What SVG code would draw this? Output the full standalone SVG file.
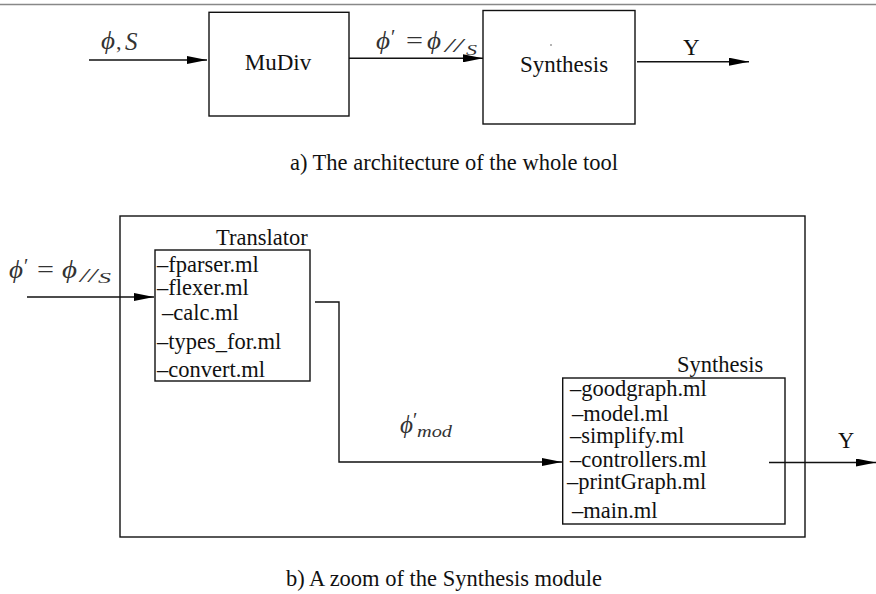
<svg xmlns="http://www.w3.org/2000/svg" width="876" height="594" viewBox="0 0 876 594">
<defs>
<marker id="ah" markerUnits="userSpaceOnUse" markerWidth="20" markerHeight="8" refX="20" refY="4" orient="auto" viewBox="0 0 20 8"><path d="M0,0 L20,4 L0,8 z" fill="#000"/></marker>
</defs>
<style>
.box{fill:none;stroke:#111;stroke-width:1.4}
.t{font-family:"Liberation Serif","Times New Roman",serif;fill:#111;font-size:22.5px}
.tt{font-family:"Liberation Serif","Times New Roman",serif;fill:#111;font-size:23px}
.m{font-family:"Liberation Serif","DejaVu Serif",serif;font-style:italic;fill:#333;font-size:23px}
.phi{font-family:"Liberation Serif","DejaVu Serif",serif;font-style:italic;fill:#333;font-size:26px}
.mu{font-family:"Liberation Serif","DejaVu Serif",serif;fill:#333;font-size:26px}
.c{fill:none;stroke:#111;stroke-width:1.4}
</style>
<rect width="876" height="594" fill="#fff"/>
<line x1="0" y1="4.5" x2="876" y2="4.5" stroke="#888" stroke-width="1.5"/>

<g id="connectors">
<line class="c" x1="89" y1="60" x2="207" y2="60" marker-end="url(#ah)"/>
<line class="c" x1="349" y1="58.3" x2="483" y2="58.3" marker-end="url(#ah)"/>
<line class="c" x1="637" y1="61.7" x2="749" y2="61.7" marker-end="url(#ah)"/>
<line class="c" x1="27" y1="297" x2="154" y2="297" marker-end="url(#ah)"/>
<polyline class="c" points="315,302 339,302 339,462 562,462" marker-end="url(#ah)"/>
<line class="c" x1="769" y1="462.5" x2="876" y2="462.5" marker-end="url(#ah)"/>
</g>

<g id="labels">
<text class="phi" x="101" y="49" textLength="14" lengthAdjust="spacingAndGlyphs">ϕ</text>
<text class="mu" x="116" y="49" style="font-size:22px">,</text>
<text class="m" x="125" y="50" style="font-size:25px">S</text>

<text class="phi" x="376" y="49" textLength="14" lengthAdjust="spacingAndGlyphs">ϕ</text>
<text class="mu" x="391" y="44" style="font-size:20px">′</text>
<text class="mu" x="406" y="49" textLength="17" lengthAdjust="spacingAndGlyphs">=</text>
<text class="phi" x="427" y="49" textLength="14" lengthAdjust="spacingAndGlyphs">ϕ</text>
<text class="m" x="445" y="52" style="font-size:19px" textLength="18" lengthAdjust="spacingAndGlyphs">//</text>
<text class="m" x="466" y="55" style="font-size:15px" textLength="11" lengthAdjust="spacingAndGlyphs">S</text>
<text class="tt" x="683" y="55">Y</text>

<text class="phi" x="9" y="278" textLength="14" lengthAdjust="spacingAndGlyphs">ϕ</text>
<text class="mu" x="24" y="273" style="font-size:20px">′</text>
<text class="mu" x="37" y="278" textLength="17" lengthAdjust="spacingAndGlyphs">=</text>
<text class="phi" x="62" y="278" textLength="15" lengthAdjust="spacingAndGlyphs">ϕ</text>
<text class="m" x="80" y="282" style="font-size:19px" textLength="17" lengthAdjust="spacingAndGlyphs">//</text>
<text class="m" x="98" y="283" style="font-size:15px" textLength="13" lengthAdjust="spacingAndGlyphs">S</text>

<text class="phi" x="400" y="433" textLength="13" lengthAdjust="spacingAndGlyphs">ϕ</text>
<text class="mu" x="413" y="427" style="font-size:20px">′</text>
<text class="m" x="417" y="437" style="font-size:17px" textLength="35" lengthAdjust="spacingAndGlyphs">mod</text>
<text class="t" x="838" y="448">Y</text>
</g>

<g id="mudiv">
<rect class="box" x="209" y="12.3" width="140" height="103.7"/>
<text class="tt" x="278" y="70" text-anchor="middle">MuDiv</text>
</g>

<g id="synthesis-top">
<rect class="box" x="483" y="10.5" width="152" height="113.5"/>
<circle cx="551" cy="45" r="0.8" fill="#555"/>
<text class="tt" x="564" y="72" text-anchor="middle">Synthesis</text>
</g>

<g id="caption-a">
<text class="t" x="454" y="170" text-anchor="middle">a) The architecture of the whole tool</text>
</g>

<g id="outer">
<rect class="box" x="120" y="216" width="685" height="321"/>
</g>

<g id="translator">
<text class="t" x="216" y="245">Translator</text>
<rect class="box" x="155" y="250" width="155" height="131"/>
<text class="t" x="157" y="272">–fparser.ml</text>
<text class="t" x="157" y="295">–flexer.ml</text>
<text class="t" x="162" y="320">–calc.ml</text>
<text class="t" x="157" y="349">–types_for.ml</text>
<text class="t" x="157" y="377">–convert.ml</text>
</g>

<g id="synthesis">
<text class="t" x="677" y="372">Synthesis</text>
<rect class="box" x="562.7" y="378" width="222.3" height="146"/>
<text class="t" x="570" y="396">–goodgraph.ml</text>
<text class="t" x="572" y="421">–model.ml</text>
<text class="t" x="570" y="443">–simplify.ml</text>
<text class="t" x="570" y="467">–controllers.ml</text>
<text class="t" x="567" y="489">–printGraph.ml</text>
<text class="t" x="572" y="518">–main.ml</text>
</g>

<g id="caption-b">
<text class="t" x="444" y="586" text-anchor="middle">b) A zoom of the Synthesis module</text>
</g>
</svg>
